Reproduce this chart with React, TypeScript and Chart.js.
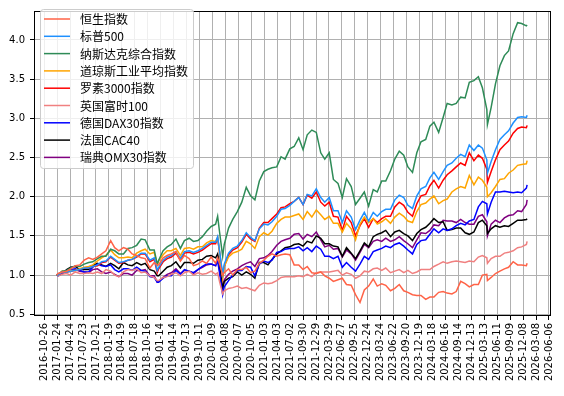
import React, { useEffect, useRef } from 'react';
import { Chart, registerables } from 'chart.js';

Chart.register(...registerables);

const dates = [
  '2017-01-20', '2017-01-31', '2017-02-28', '2017-03-31', '2017-04-28', '2017-05-31', '2017-06-30', '2017-07-31', '2017-08-31', '2017-09-29', '2017-10-31', '2017-11-30', '2017-12-29',
  '2018-01-31', '2018-02-28', '2018-03-29', '2018-04-30', '2018-05-31', '2018-06-29', '2018-07-31', '2018-08-31', '2018-09-28', '2018-10-31', '2018-11-30', '2018-12-21', '2018-12-31',
  '2019-01-31', '2019-02-28', '2019-03-29', '2019-04-30', '2019-05-31', '2019-06-28', '2019-07-31', '2019-08-30', '2019-09-30', '2019-10-31', '2019-11-29', '2019-12-31',
  '2020-01-31', '2020-02-14', '2020-02-28', '2020-03-20', '2020-03-31', '2020-04-30', '2020-05-29', '2020-06-30', '2020-07-31', '2020-08-31', '2020-09-30', '2020-10-30', '2020-11-30', '2020-12-31',
  '2021-01-29', '2021-02-26', '2021-03-31', '2021-04-30', '2021-05-28', '2021-06-30', '2021-07-30', '2021-08-31', '2021-09-30', '2021-10-29', '2021-11-30', '2021-12-31',
  '2022-01-31', '2022-02-28', '2022-03-31', '2022-04-29', '2022-05-31', '2022-06-30', '2022-07-29', '2022-08-31', '2022-09-30', '2022-10-31', '2022-11-30', '2022-12-30',
  '2023-01-31', '2023-02-28', '2023-03-31', '2023-04-28', '2023-05-31', '2023-06-30', '2023-07-31', '2023-08-31', '2023-09-29', '2023-10-31', '2023-11-30', '2023-12-29',
  '2024-01-31', '2024-02-29', '2024-03-28', '2024-04-30', '2024-05-31', '2024-06-28', '2024-07-31', '2024-08-30', '2024-09-30', '2024-10-31', '2024-11-29', '2024-12-31',
  '2025-01-31', '2025-02-28', '2025-03-31', '2025-04-04', '2025-04-30', '2025-05-30', '2025-06-30', '2025-07-31', '2025-08-29', '2025-09-30', '2025-10-31', '2025-11-28', '2025-12-31',
  '2026-01-05',
];

const hsi = [
  1.00, 1.02, 1.04, 1.05, 1.08, 1.12, 1.13, 1.19, 1.22, 1.20, 1.23, 1.27, 1.31,
  1.44, 1.35, 1.31, 1.35, 1.33, 1.27, 1.25, 1.22, 1.21, 1.09, 1.16, 1.13, 1.13,
  1.22, 1.25, 1.27, 1.30, 1.18, 1.25, 1.21, 1.12, 1.14, 1.18, 1.15, 1.23,
  1.15, 1.22, 1.14, 1.00, 1.03, 1.08, 1.00, 1.07, 1.07, 1.10, 1.03, 1.05, 1.15, 1.19,
  1.24, 1.27, 1.24, 1.26, 1.27, 1.26, 1.13, 1.13, 1.07, 1.11, 1.03, 1.02,
  1.04, 0.99, 0.96, 0.92, 0.94, 0.96, 0.88, 0.87, 0.75, 0.65, 0.81, 0.86,
  0.95, 0.86, 0.89, 0.87, 0.80, 0.83, 0.88, 0.80, 0.78, 0.75, 0.74, 0.74,
  0.69, 0.72, 0.72, 0.78, 0.79, 0.77, 0.76, 0.79, 0.92, 0.89, 0.85, 0.88,
  0.88, 1.00, 1.01, 0.93, 0.97, 1.02, 1.05, 1.08, 1.10, 1.17, 1.13, 1.13, 1.12,
  1.15,
];

const spx = [
  1.00, 1.00, 1.04, 1.04, 1.05, 1.06, 1.07, 1.09, 1.09, 1.11, 1.13, 1.17, 1.18,
  1.24, 1.20, 1.16, 1.17, 1.19, 1.20, 1.24, 1.28, 1.28, 1.19, 1.22, 1.06, 1.10,
  1.19, 1.23, 1.25, 1.30, 1.21, 1.30, 1.31, 1.29, 1.31, 1.34, 1.38, 1.42,
  1.42, 1.49, 1.30, 1.01, 1.14, 1.28, 1.34, 1.37, 1.44, 1.54, 1.48, 1.44, 1.59, 1.65,
  1.64, 1.68, 1.75, 1.84, 1.85, 1.89, 1.94, 1.99, 1.90, 2.03, 2.01, 2.10,
  1.99, 1.93, 1.99, 1.82, 1.82, 1.67, 1.82, 1.74, 1.58, 1.70, 1.80, 1.69,
  1.80, 1.75, 1.81, 1.84, 1.84, 1.96, 2.02, 1.99, 1.89, 1.85, 2.01, 2.10,
  2.13, 2.24, 2.31, 2.22, 2.32, 2.40, 2.43, 2.49, 2.54, 2.51, 2.66, 2.59,
  2.66, 2.62, 2.47, 2.30, 2.45, 2.60, 2.73, 2.79, 2.84, 2.94, 3.01, 3.02, 3.01,
  3.04,
];

const ixic = [
  1.00, 1.01, 1.05, 1.06, 1.09, 1.12, 1.11, 1.14, 1.16, 1.17, 1.21, 1.24, 1.24,
  1.33, 1.31, 1.27, 1.27, 1.34, 1.35, 1.38, 1.46, 1.45, 1.32, 1.32, 1.14, 1.19,
  1.31, 1.36, 1.39, 1.46, 1.34, 1.44, 1.47, 1.43, 1.44, 1.49, 1.56, 1.62,
  1.65, 1.75, 1.54, 1.24, 1.39, 1.60, 1.71, 1.81, 1.93, 2.12, 2.01, 1.96, 2.20, 2.32,
  2.35, 2.37, 2.38, 2.51, 2.48, 2.61, 2.64, 2.75, 2.60, 2.79, 2.85, 2.82,
  2.56, 2.48, 2.56, 2.22, 2.17, 1.99, 2.23, 2.13, 1.90, 1.98, 2.06, 1.88,
  2.09, 2.06, 2.20, 2.20, 2.33, 2.48, 2.58, 2.53, 2.38, 2.31, 2.56, 2.70,
  2.73, 2.90, 2.95, 2.82, 3.01, 3.19, 3.17, 3.19, 3.27, 3.26, 3.46, 3.48,
  3.53, 3.39, 3.11, 2.92, 3.14, 3.44, 3.67, 3.80, 3.86, 4.08, 4.22, 4.21, 4.18,
  4.19,
];

const dji = [
  1.00, 1.00, 1.05, 1.04, 1.06, 1.06, 1.08, 1.10, 1.11, 1.13, 1.18, 1.22, 1.25,
  1.32, 1.26, 1.22, 1.22, 1.23, 1.22, 1.28, 1.31, 1.33, 1.27, 1.29, 1.13, 1.18,
  1.26, 1.31, 1.31, 1.34, 1.25, 1.34, 1.35, 1.33, 1.36, 1.36, 1.41, 1.44,
  1.43, 1.48, 1.28, 0.97, 1.11, 1.23, 1.28, 1.30, 1.33, 1.43, 1.40, 1.34, 1.49, 1.54,
  1.51, 1.56, 1.66, 1.71, 1.74, 1.74, 1.76, 1.78, 1.71, 1.81, 1.74, 1.83,
  1.77, 1.71, 1.75, 1.66, 1.66, 1.55, 1.66, 1.59, 1.45, 1.65, 1.74, 1.67,
  1.72, 1.65, 1.68, 1.72, 1.66, 1.74, 1.79, 1.75, 1.69, 1.67, 1.81, 1.90,
  1.92, 1.97, 2.01, 1.91, 1.95, 1.97, 2.06, 2.10, 2.13, 2.11, 2.27, 2.15,
  2.25, 2.21, 2.12, 2.00, 2.05, 2.13, 2.22, 2.23, 2.30, 2.34, 2.40, 2.41, 2.42,
  2.46,
];

const rua = [
  1.00, 1.00, 1.04, 1.04, 1.05, 1.06, 1.07, 1.09, 1.09, 1.11, 1.12, 1.16, 1.17,
  1.23, 1.19, 1.15, 1.16, 1.19, 1.20, 1.23, 1.27, 1.27, 1.17, 1.20, 1.03, 1.08,
  1.17, 1.21, 1.23, 1.28, 1.19, 1.28, 1.29, 1.27, 1.29, 1.32, 1.36, 1.40,
  1.40, 1.47, 1.28, 0.97, 1.11, 1.26, 1.32, 1.35, 1.42, 1.52, 1.46, 1.43, 1.60, 1.67,
  1.67, 1.72, 1.78, 1.86, 1.87, 1.91, 1.94, 1.99, 1.90, 2.02, 1.98, 2.06,
  1.93, 1.88, 1.93, 1.75, 1.74, 1.57, 1.75, 1.67, 1.50, 1.63, 1.72, 1.61,
  1.72, 1.67, 1.72, 1.75, 1.75, 1.87, 1.93, 1.89, 1.80, 1.75, 1.91, 2.01,
  2.03, 2.14, 2.21, 2.11, 2.21, 2.28, 2.33, 2.38, 2.43, 2.40, 2.56, 2.46,
  2.53, 2.49, 2.35, 2.18, 2.32, 2.47, 2.60, 2.66, 2.71, 2.81, 2.87, 2.89, 2.88,
  2.91,
];

const ftse = [
  1.00, 0.99, 1.01, 1.02, 1.00, 1.04, 1.02, 1.02, 1.03, 1.02, 1.04, 1.02, 1.07,
  1.05, 1.00, 0.98, 1.04, 1.07, 1.06, 1.08, 1.03, 1.04, 0.99, 0.97, 0.93, 0.93,
  0.97, 0.98, 1.01, 1.03, 0.99, 1.03, 1.05, 1.00, 1.03, 1.01, 1.02, 1.05,
  1.01, 1.03, 0.91, 0.76, 0.80, 0.83, 0.84, 0.86, 0.83, 0.84, 0.82, 0.80, 0.87, 0.90,
  0.89, 0.90, 0.93, 0.97, 0.98, 0.98, 0.98, 0.99, 0.98, 1.01, 0.98, 1.03,
  1.04, 1.04, 1.04, 1.05, 1.06, 1.00, 1.03, 1.01, 0.96, 0.99, 1.05, 1.04,
  1.08, 1.09, 1.06, 1.09, 1.03, 1.05, 1.07, 1.03, 1.06, 1.02, 1.04, 1.07,
  1.07, 1.07, 1.11, 1.14, 1.17, 1.15, 1.17, 1.18, 1.17, 1.16, 1.18, 1.17,
  1.23, 1.25, 1.22, 1.15, 1.21, 1.24, 1.24, 1.28, 1.29, 1.31, 1.35, 1.36, 1.39,
  1.43,
];

const dax = [
  1.00, 0.99, 1.02, 1.06, 1.07, 1.08, 1.06, 1.04, 1.04, 1.10, 1.14, 1.12, 1.11,
  1.13, 1.07, 1.04, 1.08, 1.08, 1.06, 1.10, 1.06, 1.05, 0.98, 0.97, 0.91, 0.91,
  0.96, 0.99, 0.99, 1.06, 1.01, 1.07, 1.05, 1.03, 1.07, 1.11, 1.14, 1.14,
  1.12, 1.18, 1.02, 0.75, 0.85, 0.93, 1.00, 1.06, 1.06, 1.11, 1.10, 0.99, 1.14, 1.18,
  1.16, 1.19, 1.29, 1.30, 1.33, 1.34, 1.34, 1.36, 1.31, 1.35, 1.30, 1.37,
  1.33, 1.24, 1.24, 1.21, 1.24, 1.10, 1.16, 1.10, 1.05, 1.14, 1.24, 1.20,
  1.30, 1.32, 1.34, 1.37, 1.35, 1.39, 1.41, 1.37, 1.32, 1.27, 1.39, 1.44,
  1.45, 1.52, 1.59, 1.54, 1.59, 1.57, 1.59, 1.63, 1.66, 1.64, 1.69, 1.71,
  1.87, 1.94, 1.91, 1.78, 1.93, 2.06, 2.06, 2.07, 2.06, 2.05, 2.06, 2.05, 2.11,
  2.15,
];

const cac = [
  1.00, 1.00, 1.02, 1.07, 1.10, 1.11, 1.07, 1.07, 1.07, 1.12, 1.15, 1.13, 1.11,
  1.15, 1.12, 1.08, 1.16, 1.13, 1.12, 1.16, 1.13, 1.15, 1.07, 1.05, 0.99, 0.99,
  1.05, 1.10, 1.12, 1.17, 1.09, 1.16, 1.16, 1.15, 1.19, 1.20, 1.24, 1.25,
  1.22, 1.27, 1.11, 0.82, 0.92, 0.96, 0.98, 1.04, 1.00, 1.04, 1.01, 0.96, 1.16, 1.16,
  1.13, 1.20, 1.27, 1.31, 1.35, 1.36, 1.39, 1.40, 1.37, 1.43, 1.41, 1.50,
  1.47, 1.40, 1.40, 1.37, 1.36, 1.24, 1.35, 1.28, 1.21, 1.31, 1.41, 1.36,
  1.49, 1.52, 1.54, 1.57, 1.49, 1.55, 1.57, 1.53, 1.50, 1.44, 1.53, 1.58,
  1.61, 1.66, 1.72, 1.67, 1.68, 1.57, 1.58, 1.60, 1.60, 1.54, 1.52, 1.55,
  1.67, 1.70, 1.63, 1.53, 1.59, 1.63, 1.61, 1.63, 1.62, 1.66, 1.70, 1.70, 1.71,
  1.72,
];

const omx = [
  1.00, 1.01, 1.03, 1.04, 1.06, 1.07, 1.05, 1.04, 1.03, 1.07, 1.08, 1.04, 1.02,
  1.04, 1.01, 0.98, 1.02, 1.02, 1.00, 1.06, 1.06, 1.07, 0.99, 0.99, 0.91, 0.92,
  0.97, 1.01, 1.03, 1.08, 1.02, 1.06, 1.05, 1.02, 1.07, 1.10, 1.13, 1.14,
  1.12, 1.22, 1.05, 0.83, 0.94, 1.01, 1.05, 1.08, 1.12, 1.15, 1.17, 1.11, 1.21, 1.22,
  1.25, 1.30, 1.38, 1.43, 1.45, 1.47, 1.52, 1.53, 1.46, 1.52, 1.49, 1.55,
  1.45, 1.36, 1.38, 1.33, 1.34, 1.23, 1.32, 1.27, 1.19, 1.29, 1.39, 1.35,
  1.43, 1.45, 1.43, 1.47, 1.43, 1.45, 1.49, 1.44, 1.40, 1.35, 1.45, 1.54,
  1.53, 1.57, 1.64, 1.63, 1.70, 1.69, 1.69, 1.67, 1.71, 1.67, 1.65, 1.65,
  1.75, 1.77, 1.68, 1.50, 1.65, 1.70, 1.67, 1.73, 1.76, 1.77, 1.82, 1.81, 1.90,
  1.96,
];

const seriesNames = ['恒生指数', '标普500', '纳斯达克综合指数', '道琼斯工业平均指数', '罗素3000指数', '英国富时100', '德国DAX30指数', '法国CAC40', '瑞典OMX30指数'];
const seriesValues = [hsi, spx, ixic, dji, rua, ftse, dax, cac, omx];
const seriesColors = ['#FF6347', '#1E90FF', '#2E8B57', '#FFA500', '#FF0000', '#F08080', '#0000FF', '#000000', '#800080'];

const yTicks = [0.5, 1.0, 1.5, 2.0, 2.5, 3.0, 3.5, 4.0];
const xTickLabels = [
  '2016-10-26', '2017-01-24', '2017-04-24', '2017-07-23', '2017-10-21', '2018-01-19', '2018-04-19', '2018-07-18',
  '2018-10-16', '2019-01-14', '2019-04-14', '2019-07-13', '2019-10-11', '2020-01-09', '2020-04-08', '2020-07-07',
  '2020-10-05', '2021-01-03', '2021-04-03', '2021-07-02', '2021-09-30', '2021-12-29', '2022-03-29', '2022-06-27',
  '2022-09-25', '2022-12-24', '2023-03-24', '2023-06-22', '2023-09-20', '2023-12-19', '2024-03-18', '2024-06-16',
  '2024-09-14', '2024-12-13', '2025-03-13', '2025-06-11', '2025-09-09', '2025-12-08', '2026-03-08', '2026-06-06',
];

const dayNum = (s: string) => {
  const [y, m, d] = s.split('-').map(Number);
  return Date.UTC(y, m - 1, d) / 86400000;
};

const X_MIN = dayNum('2016-08-16');
const X_MAX = dayNum('2026-06-20');
const Y_MIN = 0.478;
const Y_MAX = 4.369;

const frameLegendPlugin = {
  id: 'frameLegend',
  afterDatasetsDraw(chart: any) {
    const { ctx, chartArea } = chart;
    ctx.save();
    ctx.strokeStyle = '#000';
    ctx.lineWidth = 1;
    ctx.strokeRect(
      Math.round(chartArea.left) + 0.5,
      Math.round(chartArea.top) + 0.5,
      Math.round(chartArea.right - chartArea.left) - 1,
      Math.round(chartArea.bottom - chartArea.top) - 1,
    );
    ctx.restore();
  },
  afterDraw(chart: any) {
    const { ctx } = chart;
    const bx = 40.5, by = 9.5, bw = 153, bh = 159, r = 3;
    ctx.save();
    ctx.beginPath();
    ctx.moveTo(bx + r, by);
    ctx.lineTo(bx + bw - r, by);
    ctx.quadraticCurveTo(bx + bw, by, bx + bw, by + r);
    ctx.lineTo(bx + bw, by + bh - r);
    ctx.quadraticCurveTo(bx + bw, by + bh, bx + bw - r, by + bh);
    ctx.lineTo(bx + r, by + bh);
    ctx.quadraticCurveTo(bx, by + bh, bx, by + bh - r);
    ctx.lineTo(bx, by + r);
    ctx.quadraticCurveTo(bx, by, bx + r, by);
    ctx.closePath();
    ctx.fillStyle = 'rgba(255,255,255,0.8)';
    ctx.fill();
    ctx.strokeStyle = '#cccccc';
    ctx.lineWidth = 1;
    ctx.stroke();
    ctx.font = '12px "Noto Sans CJK SC", sans-serif';
    ctx.textBaseline = 'middle';
    ctx.textAlign = 'left';
    seriesNames.forEach((name, i) => {
      const y = 19 + i * 17.3;
      ctx.strokeStyle = seriesColors[i];
      ctx.lineWidth = 1.5;
      ctx.beginPath();
      ctx.moveTo(44, y);
      ctx.lineTo(70, y);
      ctx.stroke();
      ctx.fillStyle = '#000';
      ctx.fillText(name, 80, y + 0.5);
    });
    ctx.restore();
  },
};

export default function App() {
  const ref = useRef<HTMLCanvasElement>(null);
  useEffect(() => {
    document.body.style.margin = '0';
    const canvas = ref.current!;
    const chart = new Chart(canvas, {
      type: 'line',
      data: {
        datasets: seriesNames.map((name, i) => ({
          label: name,
          data: dates.map((d, j) => ({ x: dayNum(d), y: seriesValues[i][j] })),
          borderColor: seriesColors[i],
          backgroundColor: seriesColors[i],
          borderWidth: 1.5,
          pointRadius: 0,
          tension: 0,
          fill: false,
        })),
      },
      options: {
        animation: false,
        responsive: false,
        maintainAspectRatio: false,
        events: [],
        layout: { padding: { left: 0, top: 3, right: 9, bottom: 0 } },
        plugins: { legend: { display: false }, tooltip: { enabled: false } },
        scales: {
          x: {
            type: 'linear',
            min: X_MIN,
            max: X_MAX,
            afterBuildTicks: (scale: any) => {
              scale.ticks = xTickLabels.map((l) => ({ value: dayNum(l) }));
            },
            afterFit: (scale: any) => {
              scale.height = 80;
            },
            ticks: {
              autoSkip: false,
              minRotation: 90,
              maxRotation: 90,
              padding: 3,
              color: '#000',
              font: { family: '"DejaVu Sans", sans-serif', size: 10 },
              callback: (_v: any, i: number) => xTickLabels[i],
            },
            grid: { color: '#b0b0b0', lineWidth: 1, tickLength: 4, tickColor: '#000' },
            border: { display: false },
          },
          y: {
            type: 'linear',
            min: Y_MIN,
            max: Y_MAX,
            afterBuildTicks: (scale: any) => {
              scale.ticks = yTicks.map((v) => ({ value: v }));
            },
            afterFit: (scale: any) => {
              scale.width = 34;
            },
            ticks: {
              padding: 5,
              color: '#000',
              font: { family: '"DejaVu Sans", sans-serif', size: 10 },
              callback: (v: any) => Number(v).toFixed(1),
            },
            grid: { color: '#b0b0b0', lineWidth: 1, tickLength: 4, tickColor: '#000' },
            border: { display: false },
          },
        },
      },
      plugins: [frameLegendPlugin],
    });
    return () => chart.destroy();
  }, []);
  return (
    <div style={{ position: 'fixed', left: 0, top: 0, width: 564, height: 396, background: '#fff' }}>
      <canvas ref={ref} width={564} height={396} style={{ width: 564, height: 396, display: 'block' }} />
    </div>
  );
}
